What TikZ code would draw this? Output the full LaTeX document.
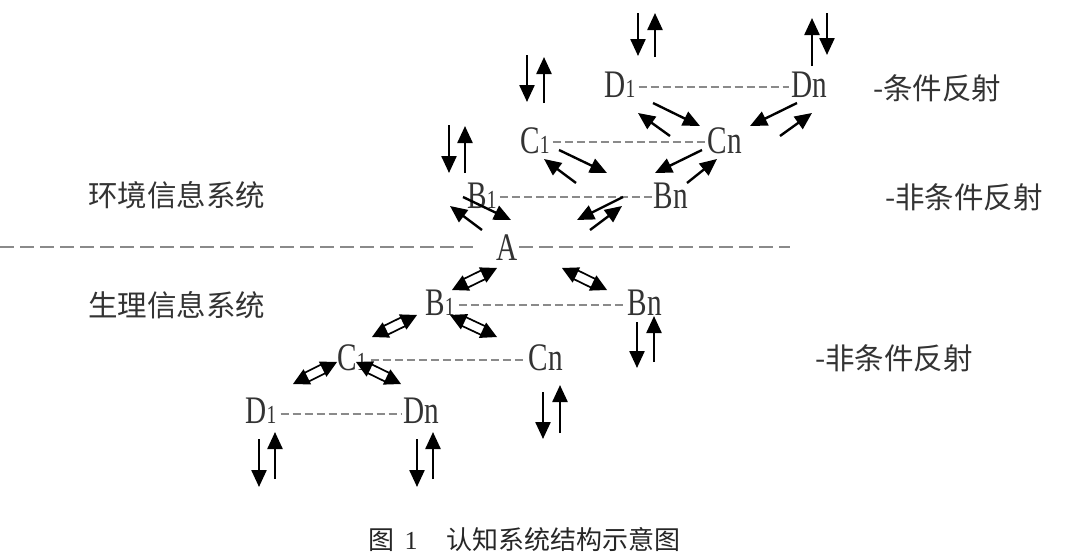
\documentclass[tikz,border=0pt]{standalone}
\usepackage{fontspec}
\setmainfont{Liberation Serif}
\newfontfamily\latf[FakeStretch=0.75]{Liberation Serif}
\newfontfamily\cjkf{Noto Sans CJK SC}
\usetikzlibrary{arrows.meta,calc}
\newcommand\subone{{\fontsize{26}{26}\selectfont 1}}
\definecolor{txt}{HTML}{333333}
\definecolor{dgray}{HTML}{8A8A8A}
\newcommand\harrow[2]{%
  \filldraw[fill=white,draw=black,line width=1.7pt]
    ($(#1)!13pt!(#2)!4.8pt!90:(#2)$) -- ($(#2)!13pt!(#1)!4.8pt!-90:(#1)$) --
    ($(#2)!13pt!(#1)!4.8pt!90:(#1)$) -- ($(#1)!13pt!(#2)!4.8pt!-90:(#2)$) -- cycle;
  \fill (#2) -- ($(#2)!16pt!(#1)!8.5pt!90:(#1)$) -- ($(#2)!16pt!(#1)!8.5pt!-90:(#1)$) -- cycle;
  \fill (#1) -- ($(#1)!16pt!(#2)!8.5pt!90:(#2)$) -- ($(#1)!16pt!(#2)!8.5pt!-90:(#2)$) -- cycle;
}
\begin{document}
\begin{tikzpicture}[x=1pt,y=-1pt,
  lbl/.style={font=\latf\fontsize{39}{39}\selectfont,inner sep=0pt,text=txt},
  cjklbl/.style={font=\cjkf\fontsize{29.5}{30}\selectfont,inner sep=0pt,text=txt,anchor=west},
  dline/.style={dgray,line width=1.3pt,dash pattern=on 8pt off 4pt},
  mainline/.style={dgray,line width=2.4pt,dash pattern=on 14pt off 6pt},
  sarrow/.style={-{Triangle[length=17pt,width=15pt]},line width=2.4pt,black}]
\fill[white] (0,0) rectangle (1080,560);
\useasboundingbox (0,0) rectangle (1080,560);

% nodes
\node[lbl] (uD1) at (620,85) {D\subone};
\node[lbl] (uDn) at (809,85) {Dn};
\node[lbl] (uC1) at (535,141) {C\subone};
\node[lbl] (uCn) at (725,141) {Cn};
\node[lbl] (uB1) at (482,196) {B\subone};
\node[lbl] (uBn) at (671,196) {Bn};
\node[lbl] (A) at (507,248) {A};
\node[lbl] (lB1) at (440,303) {B\subone};
\node[lbl] (lBn) at (645,303) {Bn};
\node[lbl] (lC1) at (352,358) {C\subone};
\node[lbl] (lCn) at (546,358) {Cn};
\node[lbl] (lD1) at (261,411) {D\subone};
\node[lbl] (lDn) at (421,411) {Dn};

% labels
\node[cjklbl] (env) at (88,195) {环境信息系统};
\node[cjklbl] (phys) at (88,305) {生理信息系统};
\node[cjklbl] (cond) at (873,88) {-条件反射};
\node[cjklbl] (ucA) at (885,197) {-非条件反射};
\node[cjklbl] (ucB) at (815,358) {-非条件反射};
\node[anchor=west,inner sep=0pt,text=black!85,font=\cjkf\fontsize{26}{26}\selectfont] (cap) at (368,540)
  {图\hspace{0.4em}{\rmfamily 1}\hspace{1.1em}认知系统结构示意图};

% dashed links
\coordinate (ML) at (0,247);
\coordinate (MLe) at (473,247);
\coordinate (MRs) at (519,247);
\coordinate (MR) at (790,247);
\draw[mainline] (ML) -- (MLe);
\draw[mainline] (MRs) -- (MR);
\draw[dline] ([yshift=-2pt,xshift=3pt]uD1.east) -- ([yshift=-2pt,xshift=-2pt]uDn.west);
\draw[dline] ([yshift=-1pt,xshift=3pt]uC1.east) -- ([yshift=-1pt,xshift=-2pt]uCn.west);
\draw[dline] ([yshift=-1pt,xshift=3pt]uB1.east) -- ([yshift=-1pt,xshift=-2pt]uBn.west);
\draw[dline] ([yshift=-2pt,xshift=4pt]lB1.east) -- ([yshift=-2pt,xshift=-2pt]lBn.west);
\draw[dline] ([yshift=-2pt,xshift=4pt]lC1.east) -- ([yshift=-2pt,xshift=-2pt]lCn.west);
\draw[dline] ([yshift=-3pt,xshift=4pt]lD1.east) -- ([yshift=-3pt,xshift=-2pt]lDn.west);

% upper diagonal arrows
\draw[sarrow] (653,103) -- (700,126);
\draw[sarrow] (670,136) -- (638,113);
\draw[sarrow] (797,103) -- (750,126);
\draw[sarrow] (780,136) -- (812,113);
\draw[sarrow] (559,150) -- (607,173);
\draw[sarrow] (576,183) -- (544,159);
\draw[sarrow] (702,150) -- (655,173);
\draw[sarrow] (687,183) -- (717,159);
\draw[sarrow] (463,197) -- (511,220);
\draw[sarrow] (482,230) -- (450,206);
\draw[sarrow] (623,197) -- (577,220);
\draw[sarrow] (590,230) -- (622,206);

% upper vertical arrows
\draw[sarrow] (638,13) -- (638,56);
\draw[sarrow] (655,57) -- (655,13);
\draw[sarrow] (827,13) -- (827,55);
\draw[sarrow] (812,66) -- (812,18);
\draw[sarrow] (527,55) -- (527,102);
\draw[sarrow] (544,103) -- (544,57);
\draw[sarrow] (449,125) -- (449,173);
\draw[sarrow] (465,173) -- (465,126);

% lower vertical arrows
\draw[sarrow] (637,322) -- (637,368);
\draw[sarrow] (654,362) -- (654,316);
\draw[sarrow] (543,392) -- (543,439);
\draw[sarrow] (560,433) -- (560,385);
\draw[sarrow] (259,439) -- (259,487);
\draw[sarrow] (275,479) -- (275,432);
\draw[sarrow] (417,439) -- (417,487);
\draw[sarrow] (433,479) -- (433,432);

% lower hollow double arrows
\harrow{452,290}{497,268}
\harrow{562,268}{607,290}
\harrow{372,337}{417,315}
\harrow{450,315}{497,337}
\harrow{293,384}{337,362}
\harrow{356,362}{401,384}
\end{tikzpicture}
\end{document}
